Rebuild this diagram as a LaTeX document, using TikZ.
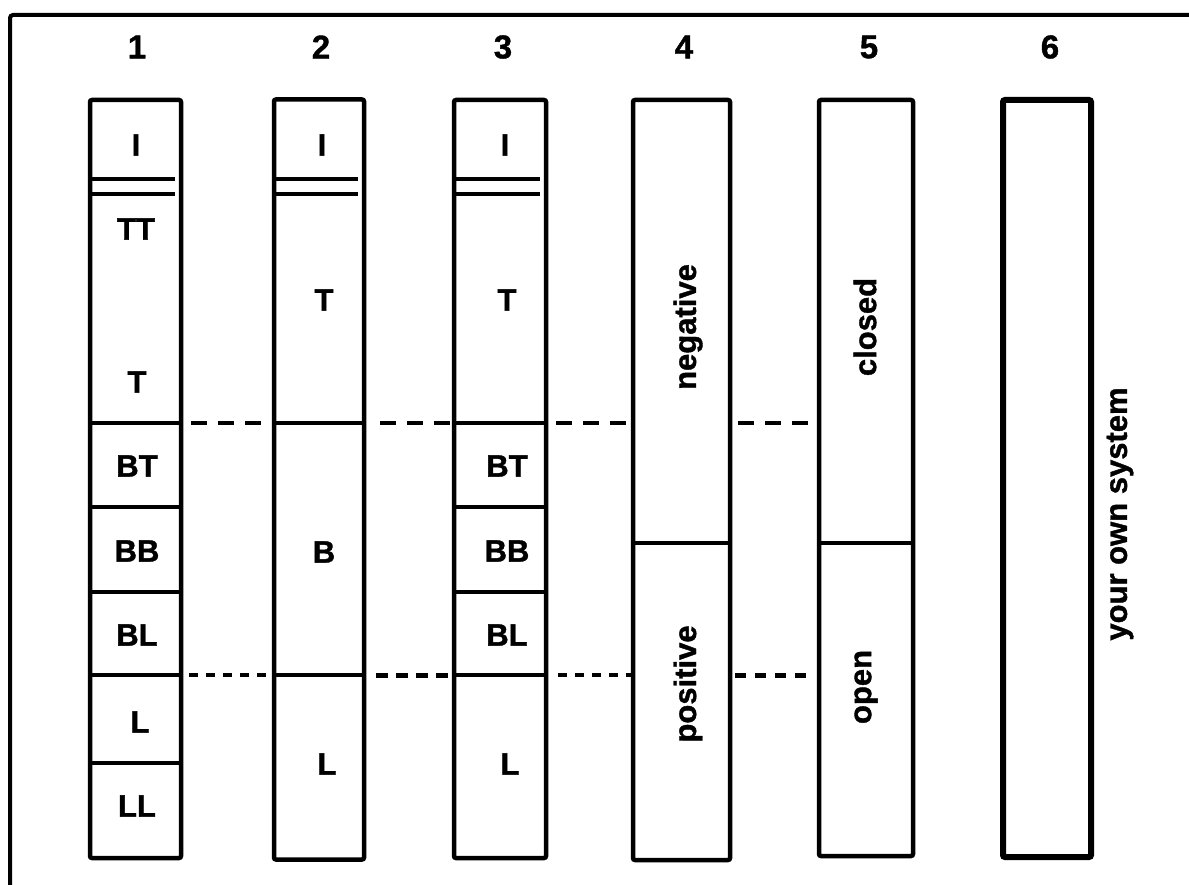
\documentclass[tikz,border=0pt]{standalone}
\usepackage{fontspec}
\setmainfont{Liberation Sans}[BoldFeatures={FakeBold=1.2}]
\begin{document}
\begin{tikzpicture}[x=1pt,y=-1pt,
  colbox/.style={draw,line width=4.5pt,rounded corners=2pt,inner sep=0pt,outer sep=0pt},
  div/.style={line width=3.5pt},
  lbl/.style={font=\fontsize{31}{36}\selectfont\bfseries,inner sep=0pt},
  num/.style={font=\fontsize{33}{38}\selectfont\bfseries,inner sep=0pt},
  dashA/.style={line width=4pt,dash pattern=on 16pt off 11pt},
  dashB/.style={line width=4pt,dash pattern=on 9pt off 8pt},
]
\useasboundingbox (0,0) rectangle (1189,885);
% frame
\draw[line width=4pt,rounded corners=3pt] (10,885) -- (10,15) -- (1189,15);

% level coordinates
\coordinate (yD1) at (0,179);
\coordinate (yD2) at (0,194);
\coordinate (yA) at (0,423);
\coordinate (yB) at (0,507);
\coordinate (yC) at (0,592);
\coordinate (yL) at (0,675);
\coordinate (yE) at (0,763);
\coordinate (yM) at (0,543);

% columns
\node[colbox,minimum width=91pt,minimum height=758pt] (c1) at (135.5,479) {};
\node[colbox,minimum width=90pt,minimum height=760pt] (c2) at (319,479.5) {};
\node[colbox,minimum width=92pt,minimum height=758pt] (c3) at (500,479) {};
\node[colbox,minimum width=97pt,minimum height=760pt] (c4) at (681.5,480) {};
\node[colbox,minimum width=94pt,minimum height=756pt] (c5) at (866,478) {};
\node[colbox,line width=6pt,minimum width=88pt,minimum height=757pt] (c6) at (1047,478.5) {};

% numbers
\node[num] (n1) at (137,47) {1};
\node[num] (n2) at (321,47) {2};
\node[num] (n3) at (503,47) {3};
\node[num] (n4) at (684,47) {4};
\node[num] (n5) at (869,47) {5};
\node[num] (n6) at (1050,47) {6};

% double lines at top of columns 1-3
\foreach \c in {c1,c2,c3}{
  \draw[div] (\c.west |- yD1) -- ([xshift=-6pt]\c.east |- yD1);
  \draw[div] (\c.west |- yD2) -- ([xshift=-6pt]\c.east |- yD2);
}
% column 1 dividers
\draw[div] (c1.west |- yA) -- (c1.east |- yA);
\draw[div] (c1.west |- yB) -- (c1.east |- yB);
\draw[div] (c1.west |- yC) -- (c1.east |- yC);
\draw[div] (c1.west |- yL) -- (c1.east |- yL);
\draw[div] (c1.west |- yE) -- (c1.east |- yE);
% column 2 dividers
\draw[div] (c2.west |- yA) -- (c2.east |- yA);
\draw[div,line width=4.5pt] (c2.west |- yL) -- (c2.east |- yL);
% column 3 dividers
\draw[div] (c3.west |- yA) -- (c3.east |- yA);
\draw[div] (c3.west |- yB) -- (c3.east |- yB);
\draw[div] (c3.west |- yC) -- (c3.east |- yC);
\draw[div,line width=4.5pt] (c3.west |- yL) -- (c3.east |- yL);
% columns 4, 5 dividers
\draw[div] (c4.west |- yM) -- (c4.east |- yM);
\draw[div] (c5.west |- yM) -- (c5.east |- yM);

% dashed connectors, upper level
\draw[dashA,shorten <=10pt] (c1.east |- yA) -- (c2.west |- yA);
\draw[dashA,shorten <=16pt] (c2.east |- yA) -- (c3.west |- yA);
\draw[dashA,shorten <=10pt] (c3.east |- yA) -- (c4.west |- yA);
\draw[dashA,shorten <=8pt,shorten >=9pt] (c4.east |- yA) -- (c5.west |- yA);
% dashed connectors, lower level
\draw[dashB,shorten <=8pt] (c1.east |- yL) -- (c2.west |- yL);
\draw[dashB,line width=5pt,dash pattern=on 12pt off 8pt,shorten <=12pt] (c2.east |- yL) -- (c3.west |- yL);
\draw[dashB,shorten <=12pt] (c3.east |- yL) -- (c4.west |- yL);
\draw[dashB,line width=5pt,dash pattern=on 11pt off 9pt,shorten <=5pt,shorten >=6pt] (c4.east |- yL) -- (c5.west |- yL);

% labels column 1
\node[lbl] (a1) at (136,145) {I};
\node[lbl] (a2) at (136,229) {TT};
\node[lbl] (a3) at (137,382) {T};
\node[lbl] (a4) at (137,466) {BT};
\node[lbl] (a5) at (137,551) {BB};
\node[lbl] (a6) at (137,635) {BL};
\node[lbl] (a7) at (140,722) {L};
\node[lbl] (a8) at (137,806) {LL};
% labels column 2
\node[lbl] (b1) at (322,145) {I};
\node[lbl] (b2) at (324,300) {T};
\node[lbl] (b3) at (324,552) {B};
\node[lbl] (b4) at (327,764) {L};
% labels column 3
\node[lbl] (d1) at (505,145) {I};
\node[lbl] (d2) at (507,300) {T};
\node[lbl] (d3) at (507,466) {BT};
\node[lbl] (d4) at (507,551) {BB};
\node[lbl] (d5) at (507,635) {BL};
\node[lbl] (d6) at (510,764) {L};
% labels columns 4-6
\node[lbl,rotate=90] (e1) at (688,327) {negative};
\node[lbl,rotate=90] (e2) at (688,684) {positive};
\node[lbl,rotate=90] (f1) at (865,327) {closed};
\node[lbl,rotate=90] (f2) at (866,687) {open};
\node[lbl,rotate=90] (g1) at (1120,514) {your own system};
\end{tikzpicture}
\end{document}
